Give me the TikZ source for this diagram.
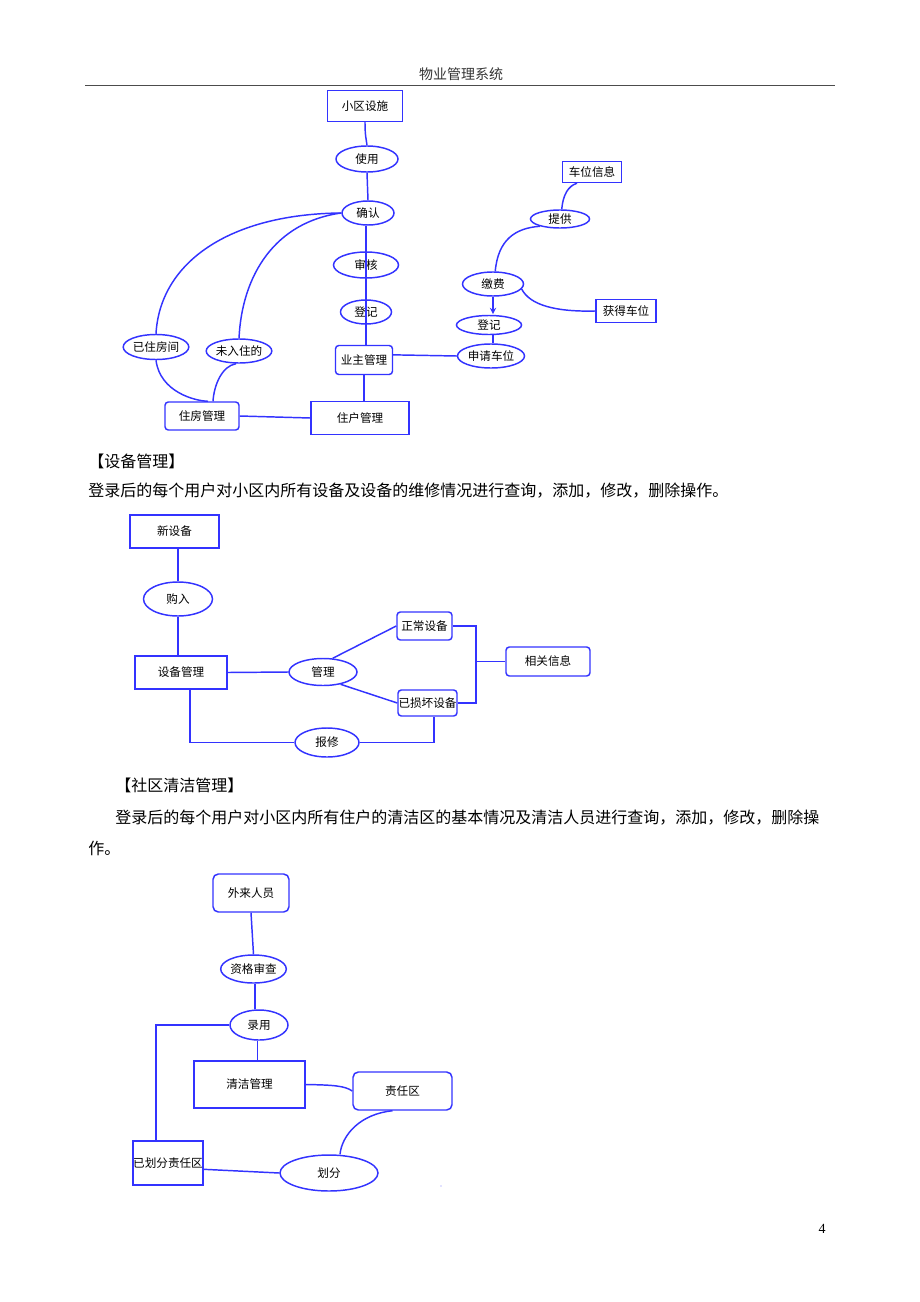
\documentclass[tikz,border=0pt]{standalone}
\usepackage{fontspec}
\setmainfont{Liberation Serif}
\newfontfamily\cjk{Noto Sans CJK SC}
\usetikzlibrary{shapes.geometric,calc}
\definecolor{ln}{RGB}{51,51,255}
\tikzset{
  sz/.style 2 args={minimum width=#1*0.75pt, minimum height=#2*0.75pt},
  lbl/.style={font=\cjk\fontsize{8.7}{10}\selectfont, text=black},
  conn/.style={draw=ln, line width=1.1pt},
  box/.style={lbl, draw=ln, line width=1.1pt, inner sep=0pt},
  rbox/.style={box, rounded corners=2.5pt},
  ell/.style={lbl, ellipse, draw=ln, line width=1.1pt, inner sep=0pt},
  body/.style={font=\cjk\fontsize{12}{14}\selectfont, anchor=west, inner sep=0pt},
}
\begin{document}
\begin{tikzpicture}[x=0.75pt,y=-0.75pt]
\path[use as bounding box, fill=white] (0,0) rectangle (920,1302);

% header
\node[font=\cjk\fontsize{10.5}{12}\selectfont, text=black!80, inner sep=0pt] (hdr) at (461,74) {物业管理系统};
\draw[black!70, line width=0.6pt] (85,85) -- (835,85);

% ---------- top diagram ----------
\node[box, sz={75}{31}] (xq) at (365,106) {小区设施};
\node[ell, sz={62}{26}] (sy) at (367,159) {使用};
\node[ell, sz={52}{24}] (qr) at (368,213) {确认};
\node[ell, sz={65}{26}] (sh) at (366,265) {审核};
\node[ell, sz={51}{24}] (dj) at (366,312) {登记};
\node[rbox, sz={57}{29}] (yz) at (364,360) {业主管理};
\node[box, sz={98}{33}] (zh) at (360,418) {住户管理};
\node[rbox, sz={74}{28}] (zf) at (202,416) {住房管理};
\node[ell, sz={54}{25}] (yzf) at (156,347) {已住房间};
\node[ell, sz={59}{24}] (wrz) at (239,351) {未入住的};
\node[box, sz={59}{21}] (cw) at (592,172) {车位信息};
\node[ell, sz={59}{18}] (tg) at (560,219) {提供};
\node[ell, sz={61}{24}] (jf) at (493,284) {缴费};
\node[box, sz={60}{23}] (hd) at (626,311) {获得车位};
\node[ell, sz={65}{19}] (dj2) at (489,325) {登记};
\node[ell, sz={67}{24}] (sq) at (491,356) {申请车位};

\draw[conn] (xq.south) .. controls (365,140) and (367,140) .. (sy.north);
\draw[conn] (sy.south) -- (qr.north);
\draw[conn] ($(qr.south)+(-2,0)$) -- ($(qr.south |- yz.north)+(-2,0)$);
\draw[conn] (yz.south) -- (yz.south |- zh.north);
\draw[conn] (zf.east) -- (zh.west);
\draw[conn] (yz.10) -- (sq.west);
\draw[conn] (qr.west) .. controls (230,214) and (160,262) .. (yzf.north);
\draw[conn] (qr.west) .. controls (275,222) and (242,275) .. (wrz.north);
\draw[conn] (yzf.south) .. controls (160,392) and (195,401) .. ($(zf.north)+(6,0)$);
\draw[conn] ($(wrz.south)+(-3,0)$) .. controls (222,366) and (214,385) .. ($(zf.north)+(11,0)$);
\draw[conn, -stealth, shorten >=0.5pt] (jf.south) -- (jf.south |- dj2.north);
\draw[conn] (jf.south |- dj2.south) -- (jf.south |- sq.north);
\draw[conn] (jf.80) .. controls (498,240) and (515,228) .. (tg.200);
\draw[conn] (tg.80) .. controls (563,195) and (568,186) .. ($(cw.south)+(-15,0)$);
\draw[conn] (jf.-10) .. controls (530,305) and (555,312) .. (hd.west);

% ---------- text ----------
\node[body] (t1) at (88,461) {【设备管理】};
\node[body] (t2) at (88,491) {登录后的每个用户对小区内所有设备及设备的维修情况进行查询，添加，修改，删除操作。};

% ---------- middle diagram ----------
\node[box, sz={89}{33}] (xsb) at (174.5,531.5) {新设备};
\node[ell, sz={69}{34}] (gr) at (178,599) {购入};
\node[box, sz={92}{33}] (sbgl) at (181,672.5) {设备管理};
\node[ell, sz={68}{27}] (gl) at (323,672) {管理};
\node[rbox, sz={55}{28}] (zc) at (424.5,626) {正常设备};
\node[rbox, sz={59}{26}] (ysh) at (427.5,703) {已损坏设备};
\node[rbox, sz={84}{29}] (xg) at (548,661.5) {相关信息};
\node[ell, sz={64}{29}] (bx) at (327,742.5) {报修};
\coordinate (jn) at (476,661.5);

\draw[conn] (gr.north) -- (gr.north |- xsb.south);
\draw[conn] (gr.south) -- (gr.south |- sbgl.north);
\draw[conn] (sbgl.east) -- (gl.west);
\draw[conn] (gl.55) -- (zc.west);
\draw[conn] (gl.-35) -- (ysh.west);
\draw[conn] (zc.east) -| (jn) |- (ysh.east);
\draw[conn] (jn) -- (xg.west);
\draw[conn] ($(sbgl.south)+(9,0)$) |- (bx.west);
\draw[conn] (bx.east) -| ($(ysh.south)+(6.5,0)$);

% ---------- text ----------
\node[body] (t3) at (115,785) {【社区清洁管理】};
\node[body] (t4) at (115,818) {登录后的每个用户对小区内所有住户的清洁区的基本情况及清洁人员进行查询，添加，修改，删除操};
\node[body] (t5) at (88,848) {作。};

% ---------- bottom diagram ----------
\node[rbox, rounded corners=4pt, sz={76}{38}] (wl) at (251,893) {外来人员};
\node[ell, sz={63}{28}] (zg) at (253.5,969) {资格审查};
\node[ell, sz={58}{30}] (ly) at (259,1025) {录用};
\node[box, sz={111}{47}] (qj) at (249.5,1084.5) {清洁管理};
\node[rbox, rounded corners=4pt, sz={99}{38}] (zr) at (402.5,1091) {责任区};
\node[box, sz={70}{44}] (yhf) at (168,1163) {已划分责任区};
\node[ell, sz={98}{36}] (hf) at (329,1173) {划分};

\draw[conn] (wl.south) -- (zg.north);
\draw[conn] ($(zg.south)+(1.5,0)$) -- ($(zg.south |- ly.north)+(1.5,0)$);
\draw[conn] (ly.west) -| ($(yhf.north)+(-12,0)$);
\draw[conn] ($(ly.south)+(-1.5,0)$) -- ($(ly.south |- qj.north)+(-1.5,0)$);
\draw[conn] (qj.east) .. controls (335,1085) and (345,1086) .. (zr.west);
\draw[conn] ($(zr.south)+(-10,0)$) .. controls (360,1114) and (342,1135) .. ($(hf.north)+(11,0)$);
\draw[conn] (yhf.-10) -- (hf.west);
\fill[ln!60] (441,1186) circle (0.6);

% page number
\node[font=\fontsize{10.5}{12}\selectfont, inner sep=0pt] (pg) at (822,1229) {4};
\end{tikzpicture}
\end{document}
